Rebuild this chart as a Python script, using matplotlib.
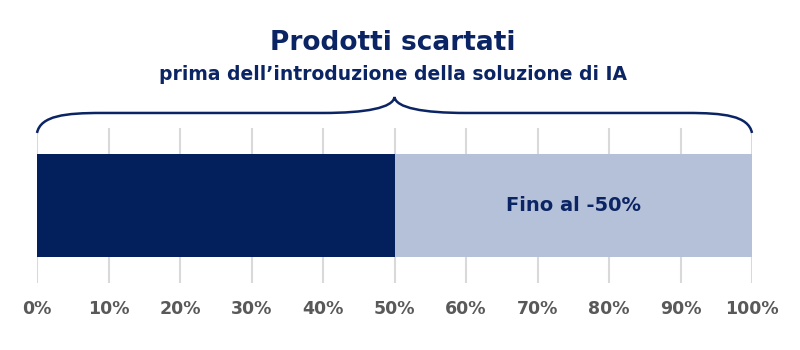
import matplotlib.pyplot as plt
from matplotlib.path import Path
from matplotlib.patches import PathPatch
import matplotlib.transforms as mtransforms

# data
segments = ["Prima", "Riduzione"]
starts = [0, 50]
widths = [50, 50]
colors = ["#03205C", "#B5C0D9"]
ticks = list(range(0, 101, 10))
tick_labels = [f"{t}%" for t in ticks]
bar_label = "Fino al -50%"
title = "Prodotti scartati"
subtitle = "prima dell\u2019introduzione della soluzione di IA"

navy = "#0B2463"
plt.rcParams['font.family'] = ['DejaVu Sans']

fig = plt.figure(figsize=(8, 3.5), dpi=100)
# axes covers 0..100% horizontally, gridline span vertically
ax = fig.add_axes([37 / 800, (350 - 283) / 350, 715 / 800, 155 / 350])
ax.set_xlim(0, 100)
ax.set_ylim(0, 1)

for s, w, c in zip(starts, widths, colors):
    ax.barh(0.5, w, left=s, height=0.665, color=c, zorder=2)

ax.text(starts[1] + widths[1] / 2, 0.5, bar_label, ha='center', va='center',
        fontsize=14, fontweight='bold', color=navy, zorder=3)

ax.set_xticks(ticks)
ax.set_xticklabels(tick_labels)
ax.tick_params(axis='x', length=0, pad=12, labelsize=12.5, labelcolor='#595959')
for lab in ax.get_xticklabels():
    lab.set_fontweight('bold')
ax.set_yticks([])
ax.grid(axis='x', color='#D9D9D9', linewidth=1.5, zorder=0)
ax.set_axisbelow(True)
for sp in ax.spines.values():
    sp.set_visible(False)

# brace over the whole bar
y_end, y_flat, y_tip = 0.968, 1.097, 1.2
mid = 50
verts = [(0, y_end), (0.5, 1.08), (4, y_flat), (9, y_flat),
         (40, y_flat),
         (46, y_flat), (49.8, 1.13), (mid, y_tip),
         (50.2, 1.13), (54, y_flat), (60, y_flat),
         (91, y_flat),
         (96, y_flat), (99.5, 1.08), (100, y_end)]
codes = [Path.MOVETO, Path.CURVE4, Path.CURVE4, Path.CURVE4,
         Path.LINETO,
         Path.CURVE4, Path.CURVE4, Path.CURVE4,
         Path.CURVE4, Path.CURVE4, Path.CURVE4,
         Path.LINETO,
         Path.CURVE4, Path.CURVE4, Path.CURVE4]
trans = mtransforms.blended_transform_factory(ax.transData, ax.transAxes)
ax.add_patch(PathPatch(Path(verts, codes), facecolor='none', edgecolor=navy,
                       linewidth=1.8, transform=trans, clip_on=False))

fig.text(393 / 800, 1 - 43 / 350, title, ha='center', va='center',
         fontsize=19, fontweight='bold', color=navy)
fig.text(393 / 800, 1 - 75 / 350, subtitle, ha='center', va='center',
         fontsize=13.5, fontweight='bold', color=navy)

fig.savefig("out.png", dpi=100, facecolor='white')
